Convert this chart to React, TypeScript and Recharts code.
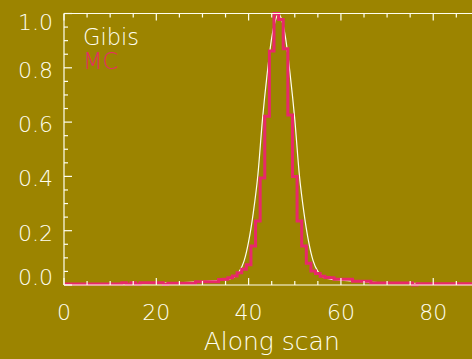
import { Legend, Line, LineChart, XAxis, YAxis } from "recharts";

const X_TICKS = [0, 5, 10, 15, 20, 25, 30, 35, 40, 45, 50, 55, 60, 65, 70, 75, 80, 85, 90];
const X_LABELLED = [0, 20, 40, 60, 80];
const Y_TICKS = [0, 0.05, 0.1, 0.15, 0.2, 0.25, 0.3, 0.35, 0.4, 0.45, 0.5, 0.55, 0.6, 0.65, 0.7, 0.75, 0.8, 0.85, 0.9, 0.95, 1];
const Y_LABELLED = [0, 0.2, 0.4, 0.6, 0.8, 1];

// Gibis: smooth profile
const gibisX = [0, 5, 10, 15, 20, 24, 27, 30, 32, 34, 35, 36, 37, 38, 39, 40, 41, 42, 43, 44, 45, 46, 46.5, 47, 48, 49, 50, 51, 52, 53, 54, 55, 56, 57, 58, 60, 62, 65, 68, 72, 78, 85, 90];
const gibisY = [0.003, 0.003, 0.004, 0.005, 0.006, 0.008, 0.01, 0.013, 0.015, 0.018, 0.02, 0.023, 0.031, 0.05, 0.088, 0.16, 0.265, 0.404, 0.61, 0.775, 0.91, 0.985, 1.0, 0.985, 0.91, 0.775, 0.61, 0.404, 0.265, 0.16, 0.088, 0.05, 0.031, 0.024, 0.021, 0.018, 0.015, 0.012, 0.009, 0.007, 0.005, 0.004, 0.003];

// MC: histogram, one bin per unit
const mcX = [
  0, 1, 2, 3, 4, 5, 6, 7, 8, 9,
  10, 11, 12, 13, 14, 15, 16, 17, 18, 19,
  20, 21, 22, 23, 24, 25, 26, 27, 28, 29,
  30, 31, 32, 33, 34, 35, 36, 37, 38, 39,
  40, 41, 42, 43, 44, 45, 46, 47, 48, 49,
  50, 51, 52, 53, 54, 55, 56, 57, 58, 59,
  60, 61, 62, 63, 64, 65, 66, 67, 68, 69,
  70, 71, 72, 73, 74, 75, 76, 77, 78, 79,
  80, 81, 82, 83, 84, 85, 86, 87, 88, 89, 90,
];
const mcY = [
  0.004, 0.004, 0.004, 0.004, 0.004, 0.004, 0.004, 0.004, 0.004, 0.004,
  0.004, 0.004, 0.004, 0.008, 0.003, 0.008, 0.003, 0.008, 0.008, 0.008,
  0.008, 0.008, 0.002, 0.006, 0.006, 0.006, 0.006, 0.006, 0.006, 0.012,
  0.012, 0.012, 0.012, 0.012, 0.02, 0.021, 0.027, 0.033, 0.045, 0.058,
  0.075, 0.144, 0.236, 0.394, 0.622, 0.862, 1.0, 0.978, 0.87, 0.626,
  0.4, 0.236, 0.144, 0.08, 0.052, 0.042, 0.032, 0.028, 0.027, 0.021,
  0.021, 0.021, 0.021, 0.014, 0.014, 0.014, 0.014, 0.007, 0.007, 0.007,
  0.007, 0.007, 0.007, 0.007, 0.007, 0.007, 0, 0.005, 0.005, 0.005,
  0.005, 0.005, 0.005, 0.005, 0.005, 0.005, 0.005, 0.005, 0.005, 0.005, 0.005,
];

const BG = "#9c8400";
const FG = "#fffff0";
const RED = "#e8286a";
const FONT = "'DejaVu Sans', sans-serif";

const gibisData = gibisX.map((x, i) => ({ x, y: gibisY[i] }));
const mcData = mcX.map((x, i) => ({ x, y: mcY[i] }));

function isLabelled(list: number[], v: number) {
  return list.some((l) => Math.abs(l - v) < 1e-6);
}

function BottomTick(props: any) {
  const { x, y, payload } = props;
  const major = isLabelled(X_LABELLED, payload.value);
  return (
    <g>
      <line x1={x} x2={x} y1={y} y2={y - (major ? 7 : 4)} stroke={FG} strokeWidth={1.2} />
      {major ? (
        <text x={x} y={y + 35} textAnchor="middle" fill={FG} fontSize={22} fontFamily={FONT} fontWeight={200}>
          {payload.value}
        </text>
      ) : null}
    </g>
  );
}

function TopTick(props: any) {
  const { x, y, payload } = props;
  const major = isLabelled(X_LABELLED, payload.value);
  return <line x1={x} x2={x} y1={y} y2={y + (major ? 7 : 4)} stroke={FG} strokeWidth={1.2} />;
}

function LeftTick(props: any) {
  const { x, y, payload } = props;
  const v = payload.value;
  const major = isLabelled(Y_LABELLED, v);
  let dy = 10;
  if (v >= 1) dy = 16.5;
  if (v <= 0) dy = 0;
  return (
    <g>
      <line x1={x} x2={x + (major ? 8 : 4)} y1={y} y2={y} stroke={FG} strokeWidth={1.2} />
      {major ? (
        <text x={x - 11} y={y + dy} textAnchor="end" fill={FG} fontSize={22} fontFamily={FONT} fontWeight={200}>
          {v.toFixed(1)}
        </text>
      ) : null}
    </g>
  );
}

function LegendContent(props: any) {
  const entries = (props.payload || []).filter((entry: any) => entry.type !== "none");
  return (
    <div style={{ fontFamily: FONT, fontSize: 22.5, lineHeight: "24px", fontWeight: 200 }}>
      {entries.map((entry: any) => (
        <div key={entry.value} style={{ color: entry.color }}>
          {entry.value}
        </div>
      ))}
    </div>
  );
}

export default function App() {
  return (
    <div style={{ position: "fixed", left: 0, top: 0, width: 472, height: 359, overflow: "hidden", background: BG }}>
      <LineChart width={490} height={359} margin={{ top: 12.5, right: 10.6, bottom: 0, left: 0 }}>
        <XAxis
          xAxisId="bottom"
          dataKey="x"
          type="number"
          domain={[0, 90]}
          ticks={X_TICKS}
          interval={0}
          height={74}
          tickSize={0}
          tickMargin={0}
          tickLine={false}
          axisLine={{ stroke: FG, strokeWidth: 1.2 }}
          tick={BottomTick}
          label={{ value: "Along scan", position: "insideBottom", offset: 9, fill: FG, fontSize: 25, fontFamily: FONT, fontWeight: 200 }}
        />
        <XAxis
          xAxisId="top"
          orientation="top"
          dataKey="x"
          type="number"
          domain={[0, 90]}
          ticks={X_TICKS}
          interval={0}
          height={1}
          tickSize={0}
          tickMargin={0}
          tickLine={false}
          axisLine={{ stroke: FG, strokeWidth: 1.2 }}
          tick={TopTick}
        />
        <YAxis
          type="number"
          domain={[0, 1]}
          ticks={Y_TICKS}
          interval={0}
          width={64}
          tickSize={0}
          tickMargin={0}
          tickLine={false}
          axisLine={{ stroke: FG, strokeWidth: 1.2 }}
          tick={LeftTick}
        />
        <Legend
          layout="vertical"
          align="center"
          verticalAlign="middle"
          content={LegendContent}
          wrapperStyle={{ left: 83, top: 25, width: 100 }}
        />
        <Line
          xAxisId="top"
          data={gibisData}
          dataKey="y"
          legendType="none"
          stroke="none"
          dot={false}
          activeDot={false}
          isAnimationActive={false}
        />
        <Line
          xAxisId="bottom"
          data={gibisData}
          dataKey="y"
          name="Gibis"
          type="monotone"
          stroke={FG}
          strokeWidth={1.2}
          dot={false}
          isAnimationActive={false}
        />
        <Line
          xAxisId="bottom"
          data={mcData}
          dataKey="y"
          name="MC"
          type="step"
          stroke={RED}
          strokeWidth={3}
          dot={false}
          isAnimationActive={false}
        />
      </LineChart>
    </div>
  );
}
